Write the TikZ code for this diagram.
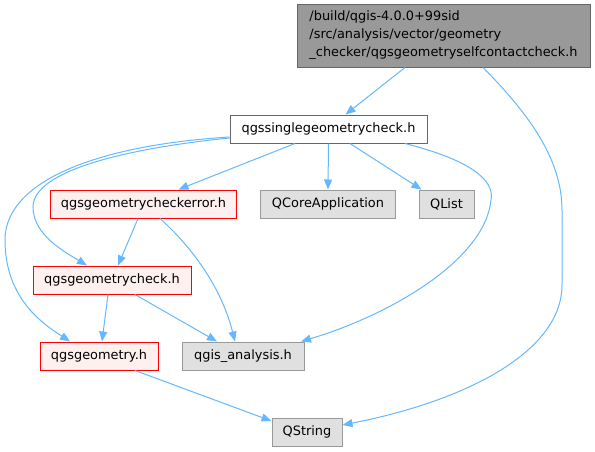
\documentclass[tikz,border=0pt]{standalone}
\usepackage{fontspec}
\setmainfont{DejaVu Sans}
\usetikzlibrary{arrows.meta}
\definecolor{edgeblue}{HTML}{63B8FF}
\definecolor{redfill}{HTML}{FFF0F0}
\definecolor{grayfill}{HTML}{E0E0E0}
\definecolor{grayline}{HTML}{999999}
\definecolor{darkline}{HTML}{666666}
\tikzset{
  base/.style={rectangle, inner sep=0pt, line width=1pt, font=\fontsize{12.9}{18}\selectfont, text=black},
  topnode/.style={base, draw=darkline, fill=grayline, align=left},
  whitenode/.style={base, draw=darkline, fill=white},
  rednode/.style={base, draw=red, fill=redfill},
  graynode/.style={base, draw=grayline, fill=grayfill},
  dep/.style={draw=edgeblue, line width=1pt, -{Triangle[length=10pt,width=8pt]}},
}
\begin{document}
\begin{tikzpicture}[x=1pt,y=-1pt]
\useasboundingbox (0,0) rectangle (595,451);
\node[topnode, minimum width=293pt, minimum height=63pt] (top) at (443.5,35.5)
  {/build/qgis-4.0.0+99sid\\/src/analysis/vector/geometry\\\_checker/qgsgeometryselfcontactcheck.h};
\node[whitenode, minimum width=197pt, minimum height=28pt] (single) at (328.5,129) {qgssinglegeometrycheck.h};
\node[rednode, minimum width=186pt, minimum height=28pt] (err) at (143.5,204) {qgsgeometrycheckerror.h};
\node[graynode, minimum width=135pt, minimum height=28pt] (qcore) at (328,204) {QCoreApplication};
\node[graynode, minimum width=55pt, minimum height=28pt] (qlist) at (446.5,204) {QList};
\node[rednode, minimum width=158pt, minimum height=28pt] (gcheck) at (112,280) {qgsgeometrycheck.h};
\node[rednode, minimum width=118pt, minimum height=28pt] (geom) at (99,356) {qgsgeometry.h};
\node[graynode, minimum width=122pt, minimum height=28pt] (qgis) at (243,356) {qgis\_analysis.h};
\node[graynode, minimum width=70pt, minimum height=28pt] (qstring) at (307,432) {QString};

\draw[dep] ([xshift=-38.5pt]top.south) -- ([xshift=17pt]single.north);
\draw[dep] ([xshift=39.5pt]top.south) .. controls (530,115) and (562,160) .. (562,210)
  -- (562,285) .. controls (562,350) and (470,400) .. ([yshift=7pt]qstring.east);
\draw[dep] ([xshift=-33.5pt]single.south) -- ([xshift=35pt]err.north);
\draw[dep] (single.south) -- (qcore.north);
\draw[dep] ([xshift=21.5pt]single.south) -- ([xshift=-25pt]qlist.north);
\draw[dep] ([xshift=76.5pt]single.south) .. controls (470,160) and (495,180) .. (491,200)
  .. controls (485,260) and (390,315) .. ([xshift=58pt]qgis.north);
\draw[dep] ([yshift=-9pt]single.west) .. controls (130,148) and (33,170) .. (33,207)
  .. controls (33,235) and (65,252) .. ([xshift=-25pt]gcheck.north);
\draw[dep] ([yshift=-8pt]single.west) .. controls (100,145) and (5,180) .. (5,240)
  .. controls (5,300) and (45,325) .. ([xshift=-29pt]geom.north);
\draw[dep] ([xshift=-5.5pt]err.south) -- ([xshift=6pt]gcheck.north);
\draw[dep] ([xshift=16.5pt]err.south) .. controls (195,250) and (222,290) .. ([xshift=-8pt]qgis.north);
\draw[dep] ([xshift=-4pt]gcheck.south) -- ([xshift=3pt]geom.north);
\draw[dep] ([xshift=23pt]gcheck.south) -- ([xshift=-26pt]qgis.north);
\draw[dep] ([xshift=36pt]geom.south) -- ([yshift=11pt]qstring.west);
\end{tikzpicture}
\end{document}
